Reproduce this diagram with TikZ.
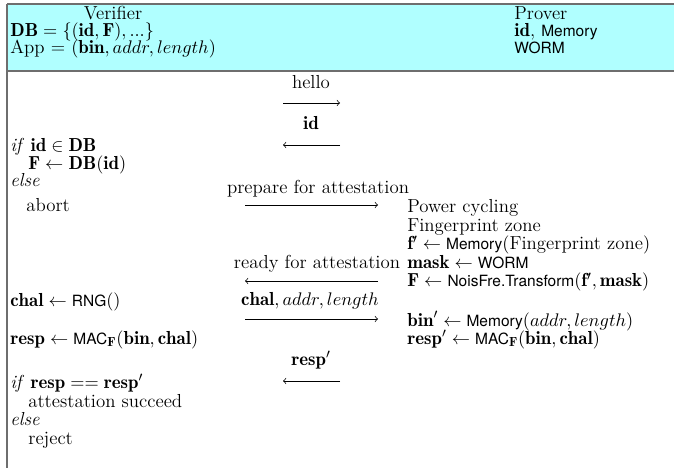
\documentclass[tikz,border=0pt]{standalone}
\usepackage{amsmath}
\usepackage{fontspec}
\newfontfamily\hsans{TeX Gyre Heros}[Scale=MatchLowercase]
\newcommand{\sfn}[1]{\text{\hsans #1}}
\definecolor{hdrfill}{RGB}{176,255,255}
\definecolor{bordergray}{RGB}{110,110,110}
\begin{document}
\begin{tikzpicture}[x=0.6pt,y=-0.6pt,
  font=\fontsize{11.3}{13}\selectfont,
  txt/.style={anchor=base west,inner sep=0pt},
  ctr/.style={anchor=base,inner sep=0pt},
  msg/.style={-to,line width=0.45pt},
  border/.style={draw=bordergray,line width=1pt}]
\useasboundingbox (0,0) rectangle (674,468);
% header
\fill[hdrfill] (7,4) rectangle (674,71);
\draw[border] (7,4) -- (674,4);
\draw[border] (7,71) -- (674,71);
\draw[border] (7,4) -- (7,468);
\node[ctr] (ver) at (113,20) {Verifier};
\node[txt] (db) at (10,37) {$\mathbf{DB}=\{(\mathbf{id},\mathbf{F}),...\}$};
\node[txt] (app) at (10,54) {App = $(\mathbf{bin},addr,length)$};
\node[txt] (prv) at (514,20) {Prover};
\node[txt] (pid) at (514,37) {$\mathbf{id}$, \hsans Memory};
\node[txt] (worm) at (514,54) {\hsans WORM};
% messages
\node[ctr] (hello) at (311,89) {hello};
\coordinate (m1a) at (283,103); \coordinate (m1b) at (340,103);
\draw[msg] (m1a) -- (m1b);
\node[ctr] (idl) at (311,130) {$\mathbf{id}$};
\coordinate (m2a) at (340,145); \coordinate (m2b) at (283,145);
\draw[msg] (m2a) -- (m2b);
\node[ctr] (prep) at (318,194) {prepare for attestation};
\coordinate (m3a) at (245,205); \coordinate (m3b) at (378,205);
\draw[msg] (m3a) -- (m3b);
\node[ctr] (ready) at (317,269) {ready for attestation};
\coordinate (m4a) at (378,281); \coordinate (m4b) at (245,281);
\draw[msg] (m4a) -- (m4b);
\node[ctr] (chl) at (310,306) {$\mathbf{chal},addr,length$};
\coordinate (m5a) at (245,319); \coordinate (m5b) at (378,319);
\draw[msg] (m5a) -- (m5b);
\node[ctr] (rspl) at (311,365) {$\mathbf{resp}'$};
\coordinate (m6a) at (340,381); \coordinate (m6b) at (283,381);
\draw[msg] (m6a) -- (m6b);
% verifier side
\node[txt] (l1) at (10,152) {\emph{if} $\mathbf{id}\in\mathbf{DB}$};
\node[txt] (l2) at (28,170) {$\mathbf{F}\leftarrow\mathbf{DB}(\mathbf{id})$};
\node[txt] (l3) at (10,187) {\emph{else}};
\node[txt] (l4) at (26,212) {abort};
\node[txt] (l5) at (10,307) {$\mathbf{chal}\leftarrow\sfn{RNG}()$};
\node[txt] (l6) at (10,344) {$\mathbf{resp}\leftarrow\sfn{MAC}_{\mathbf{F}}(\mathbf{bin},\mathbf{chal})$};
\node[txt] (l7) at (10,388) {\emph{if} $\mathbf{resp}==\mathbf{resp}'$};
\node[txt] (l8) at (28,407) {attestation succeed};
\node[txt] (l9) at (10,425) {\emph{else}};
\node[txt] (l10) at (28,444) {reject};
% prover side
\node[txt] (r1) at (407,213) {Power cycling};
\node[txt] (r2) at (407,232) {Fingerprint zone};
\node[txt] (r3) at (407,250) {$\mathbf{f}'\leftarrow\sfn{Memory}(\text{Fingerprint zone})$};
\node[txt] (r4) at (407,269) {$\mathbf{mask}\leftarrow\sfn{WORM}$};
\node[txt] (r5) at (407,287) {$\mathbf{F}\leftarrow\sfn{NoisFre.Transform}(\mathbf{f}',\mathbf{mask})$};
\node[txt] (r6) at (407,326) {$\mathbf{bin}'\leftarrow\sfn{Memory}(addr,length)$};
\node[txt] (r7) at (407,344) {$\mathbf{resp}'\leftarrow\sfn{MAC}_{\mathbf{F}}(\mathbf{bin},\mathbf{chal})$};
\end{tikzpicture}
\end{document}
